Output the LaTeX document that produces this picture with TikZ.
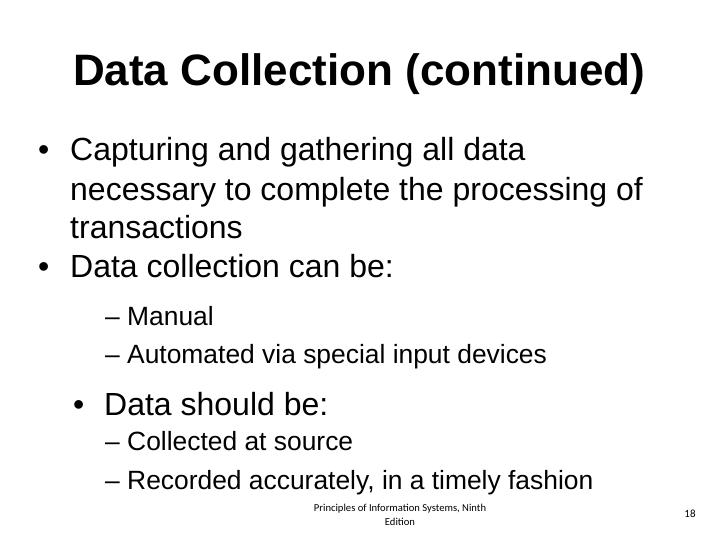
\documentclass[tikz,border=0pt]{standalone}
\usepackage{fontspec}
\setmainfont{Liberation Sans}
\newfontfamily\foot{Carlito}
\begin{document}
\begin{tikzpicture}[x=1pt,y=1pt,
  body/.style={anchor=base west,inner sep=0pt,font=\fontsize{32}{36}\selectfont},
  sub/.style={anchor=base west,inner sep=0pt,font=\fontsize{26.4}{30}\selectfont}]
\useasboundingbox[fill=white] (0,0) rectangle (720,540);
\node[inner sep=0pt,font=\bfseries\fontsize{44}{48}\selectfont] (title) at (359,466) {Data Collection (continued)};
\node[body] (b1) at (38,379) {•};
\node[body] (l1) at (70,379) {Capturing and gathering all data};
\node[body] (l2) at (70,339) {necessary to complete the processing of};
\node[body] (l3) at (70,301) {transactions};
\node[body] (b2) at (38,262) {•};
\node[body] (l4) at (70,262) {Data collection can be:};
\node[sub] (s1) at (105,214) {– Manual};
\node[sub] (s2) at (105,176) {– Automated via special input devices};
\node[body] (b3) at (73,124) {•};
\node[body] (l5) at (104,124) {Data should be:};
\node[sub] (s3) at (105,89) {– Collected at source};
\node[sub] (s4) at (105,50) {– Recorded accurately, in a timely fashion};
\node[inner sep=0pt,align=center,font=\foot\fontsize{10.6}{14}\selectfont] (f) at (400,25) {Principles of Information Systems, Ninth\\Edition};
\node[inner sep=0pt,font=\foot\fontsize{11}{14}\selectfont] (n) at (690,26) {18};
\end{tikzpicture}
\end{document}
